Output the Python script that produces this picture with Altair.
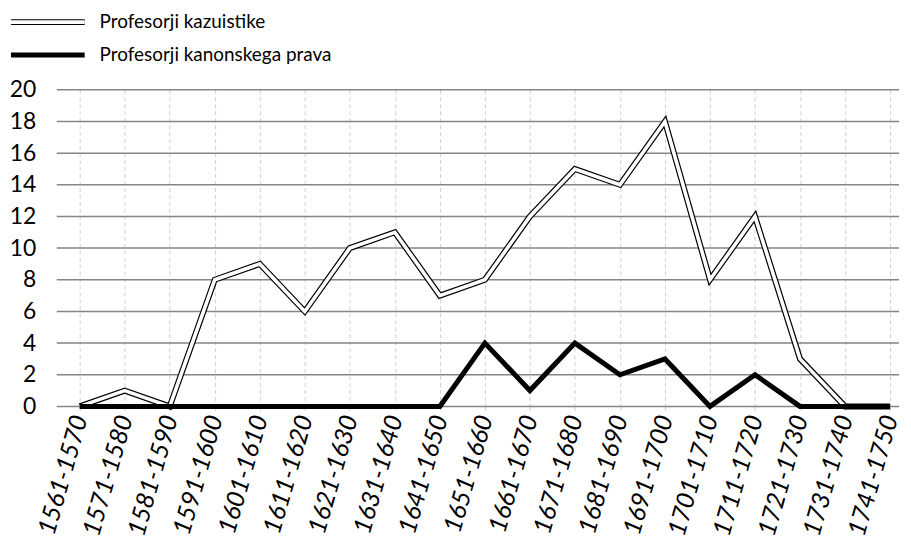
import altair as alt
import pandas as pd

periods = ["1561-1570", "1571-1580", "1581-1590", "1591-1600", "1601-1610",
           "1611-1620", "1621-1630", "1631-1640", "1641-1650", "1651-1660",
           "1661-1670", "1671-1680", "1681-1690", "1691-1700", "1701-1710",
           "1711-1720", "1721-1730", "1731-1740", "1741-1750"]
kazuistika = [0, 1, 0, 8, 9, 6, 10, 11, 7, 8, 12, 15, 14, 18, 8, 12, 3, 0, 0]
kanonsko = [0, 0, 0, 0, 0, 0, 0, 0, 0, 4, 1, 4, 2, 3, 0, 2, 0, 0, 0]
series_names = ["Profesorji kazuistike", "Profesorji kanonskega prava"]
y_ticks = [0, 2, 4, 6, 8, 10, 12, 14, 16, 18, 20]

df = pd.DataFrame({"period": periods, "kaz": kazuistika, "kan": kanonsko})
grid_df = pd.DataFrame({"v": y_ticks})

FONT = "Lato"
W, H = 846, 318

x_enc = alt.X(
    "period:N", sort=periods,
    scale=alt.Scale(type="point", range=[23, 837], padding=0),
    axis=alt.Axis(title=None, labelAngle=-74, labelFont=FONT, labelFontSize=25,
                  labelFontStyle="italic", labelColor="black", labelPadding=4,
                  domain=False, ticks=True, tickDash=[4, 3], tickColor="#d0d0d0",
                  tickSize=5, grid=True, gridDash=[4, 3], gridColor="#d0d0d0",
                  gridWidth=1),
)

y_scale = alt.Scale(domain=[0, 20], nice=False)
y_axis = alt.Axis(values=y_ticks, title=None, domain=False, ticks=False, grid=False,
                  labelFont=FONT, labelFontSize=23, labelColor="black", labelPadding=21)

def y_enc(field):
    return alt.Y(f"{field}:Q", scale=y_scale, axis=y_axis)

# horizontal gridlines spanning the whole plot width
hgrid = alt.Chart(grid_df).mark_rule(color="#858585", strokeWidth=1.5).encode(
    y=y_enc("v"), x=alt.value(0), x2=alt.value(W))

base = alt.Chart(df)
kaz_outer = base.mark_line(color="black", strokeWidth=6, strokeJoin="miter").encode(x=x_enc, y=y_enc("kaz"))
kaz_inner = base.mark_line(color="white", strokeWidth=3.6, strokeJoin="miter").encode(x=x_enc, y=y_enc("kaz"))
kan_line = base.mark_line(color="black", strokeWidth=5, strokeJoin="miter").encode(x=x_enc, y=y_enc("kan"))

leg1 = alt.Chart(pd.DataFrame({"name": [series_names[0]]}))
leg2 = alt.Chart(pd.DataFrame({"name": [series_names[1]]}))
leg1_outer = leg1.mark_rule(color="black", strokeWidth=6).encode(x=alt.value(-46), x2=alt.value(28), y=alt.value(-68))
leg1_inner = leg1.mark_rule(color="white", strokeWidth=3.6).encode(x=alt.value(-46), x2=alt.value(28), y=alt.value(-68))
leg1_text = leg1.mark_text(align="left", baseline="middle", font=FONT, fontSize=19, color="black").encode(
    x=alt.value(43), y=alt.value(-68), text="name:N")
leg2_line = leg2.mark_rule(color="black", strokeWidth=5).encode(x=alt.value(-46), x2=alt.value(28), y=alt.value(-35))
leg2_text = leg2.mark_text(align="left", baseline="middle", font=FONT, fontSize=19, color="black").encode(
    x=alt.value(43), y=alt.value(-35), text="name:N")

chart = alt.layer(
    hgrid, kaz_outer, kaz_inner, kan_line,
    leg1_outer, leg1_inner, leg1_text, leg2_line, leg2_text,
).properties(width=W, height=H, background="white",
             padding={"left": 0, "top": 4, "right": 0, "bottom": 0}).configure_view(stroke=None)

chart.save("out.html", embed_options={"renderer": "svg", "actions": False})
